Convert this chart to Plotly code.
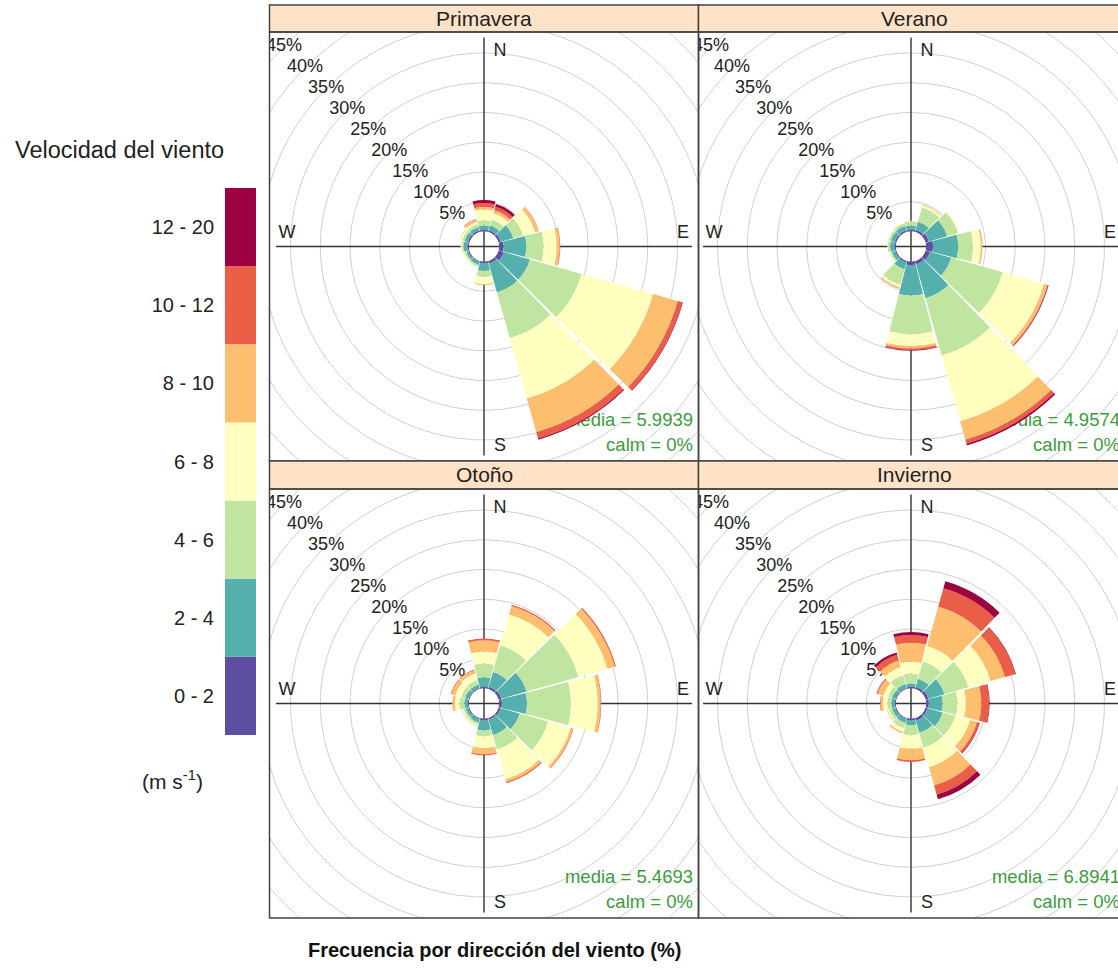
import numpy as np
import plotly.graph_objects as go

W, H = 1118, 974

# ---------------- data ----------------
directions = [0, 30, 60, 90, 120, 150, 180, 210, 240, 270, 300, 330]
speed_bins = ["0 - 2", "2 - 4", "4 - 6", "6 - 8", "8 - 10", "10 - 12", "12 - 20"]
bin_colors = ["#5E4FA2", "#55AFAD", "#BFE5A0", "#FFFFBF", "#FDBF6F", "#EA5D47", "#9E0142"]
seasons = ["Primavera", "Verano", "Otoño", "Invierno"]
medias = ["5.9939", "4.9574", "5.4693", "6.8941"]
calms = ["0%", "0%", "0%", "0%"]

# cumulative frequency (%) per direction, by speed bin (0-2 ... 12-20)
primavera_cum = [
    [0.3, 1.0, 1.9, 3.7, 4.1, 4.8, 5.3],
    [0.3, 1.2, 2.2, 3.3, 3.8, 4.4, 4.9],
    [0.4, 2.6, 4.3, 6.4, 7.0, 7.05, 7.05],
    [0.8, 4.6, 7.5, 9.7, 10.2, 10.3, 10.3],
    [0.9, 5.5, 14.5, 27.0, 31.3, 32.1, 32.2],
    [0.5, 5.5, 13.5, 24.0, 29.9, 31.0, 31.2],
    [0.3, 1.6, 2.6, 3.8, 4.0, 4.0, 4.0],
    [0.2, 0.7, 1.0, 1.2, 1.2, 1.2, 1.2],
    [0.2, 0.6, 0.9, 1.0, 1.0, 1.0, 1.0],
    [0.3, 0.9, 1.2, 1.4, 1.4, 1.4, 1.4],
    [0.3, 0.9, 1.3, 1.6, 1.7, 1.7, 1.7],
    [0.3, 0.9, 1.4, 1.8, 2.2, 2.3, 2.3],
]
verano_cum = [
    [0.3, 1.0, 1.7, 1.8, 1.8, 1.8, 1.8],
    [0.4, 1.8, 4.3, 4.7, 4.8, 4.8, 4.8],
    [0.6, 3.8, 5.7, 5.9, 5.9, 5.9, 5.9],
    [1.2, 5.4, 7.9, 9.2, 9.5, 9.5, 9.5],
    [0.8, 4.5, 13.5, 20.7, 21.3, 21.4, 21.5],
    [0.6, 6.5, 16.5, 28.0, 31.2, 31.9, 32.2],
    [0.6, 5.7, 12.2, 14.2, 14.6, 14.9, 15.0],
    [0.3, 1.5, 4.2, 4.6, 4.75, 4.8, 4.8],
    [0.2, 0.8, 1.1, 1.2, 1.2, 1.2, 1.2],
    [0.3, 1.0, 1.4, 1.5, 1.5, 1.5, 1.5],
    [0.3, 1.0, 1.4, 1.5, 1.5, 1.5, 1.5],
    [0.3, 1.1, 1.6, 1.7, 1.7, 1.7, 1.7],
]
otono_cum = [
    [0.3, 1.9, 4.2, 6.2, 8.1, 8.4, 8.4],
    [0.4, 3.0, 7.6, 13.0, 14.5, 14.7, 14.7],
    [0.5, 4.9, 14.0, 19.0, 20.3, 20.5, 20.5],
    [0.5, 4.7, 12.1, 16.6, 17.1, 17.2, 17.2],
    [0.4, 3.7, 8.7, 12.6, 13.0, 13.1, 13.1],
    [0.3, 3.0, 5.5, 10.7, 11.2, 11.4, 11.4],
    [0.3, 2.0, 3.0, 5.0, 6.0, 6.2, 6.2],
    [0.2, 0.8, 1.2, 1.4, 1.5, 1.5, 1.5],
    [0.2, 0.7, 1.1, 1.3, 1.4, 1.4, 1.4],
    [0.2, 0.8, 1.6, 2.4, 2.8, 2.8, 2.8],
    [0.2, 0.8, 1.5, 2.5, 3.2, 3.3, 3.3],
    [0.2, 0.8, 1.6, 2.7, 3.3, 3.4, 3.4],
]
invierno_cum = [
    [0.3, 0.8, 2.5, 4.5, 7.7, 9.0, 9.5],
    [0.4, 1.8, 4.8, 7.5, 14.4, 17.6, 18.8],
    [0.5, 3.3, 7.5, 11.4, 13.9, 15.7, 15.8],
    [0.5, 2.8, 5.3, 6.7, 9.3, 10.6, 10.7],
    [0.4, 3.0, 5.2, 7.8, 9.0, 9.4, 9.5],
    [0.5, 2.6, 5.2, 8.6, 11.8, 13.4, 14.2],
    [0.3, 1.1, 2.8, 5.1, 7.0, 7.3, 7.3],
    [0.2, 0.9, 1.8, 2.4, 2.7, 2.7, 2.7],
    [0.2, 0.8, 1.3, 1.6, 1.7, 1.7, 1.7],
    [0.2, 0.8, 1.5, 2.2, 2.6, 2.7, 2.7],
    [0.2, 0.8, 1.5, 2.3, 3.3, 3.5, 3.5],
    [0.2, 0.9, 2.4, 3.8, 5.0, 6.0, 6.4],
]
season_data = [primavera_cum, verano_cum, otono_cum, invierno_cum]
ring_values = [5, 10, 15, 20, 25, 30, 35, 40, 45, 50]
ring_labels = [f"{v}%" for v in ring_values]
compass = ["N", "E", "S", "W"]

# ---------------- layout geometry (px) ----------------
R0 = 15.0      # hole radius px
S = 5.95       # px per percent
col_cx = [484.0, 911.0]
col_x0 = [269.5, 698.5]
col_x1 = [698.5, 1129.5]
row_cy = [246.5, 703.5]
row_y0 = [32.0, 489.0]
row_y1 = [461.0, 918.0]
strip_y0 = [5.0, 461.0]
polar_R = [214.0, 207.0]

font_family = "Liberation Sans, Arial, sans-serif"
txt_col = "#222222"
green = "#3c9c3c"

fig = go.Figure()
layout = {}
shapes = []
annotations = []

theta_c = np.linspace(0, 2 * np.pi, 721)

for i, name in enumerate(seasons):
    row, col = divmod(i, 2)
    cx, cy = col_cx[col], row_cy[row]
    x0, x1 = col_x0[col], min(col_x1[col], W)
    y0, y1 = row_y0[row], row_y1[row]
    k = i + 1
    xa, ya = ("xaxis" if k == 1 else f"xaxis{k}"), ("yaxis" if k == 1 else f"yaxis{k}")
    xr, yr = ("x" if k == 1 else f"x{k}"), ("y" if k == 1 else f"y{k}")

    # cartesian overlay (px units) for grid rings, axes cross and labels
    layout[xa] = dict(domain=[x0 / W, x1 / W], range=[x0 - cx, x1 - cx], visible=False,
                      fixedrange=True, anchor=yr)
    layout[ya] = dict(domain=[1 - y1 / H, 1 - y0 / H], range=[cy - y1, cy - y0], visible=False,
                      fixedrange=True, anchor=xr)

    rx, ry = [], []
    for v in ring_values:
        r = R0 + S * v
        rx += list(r * np.sin(theta_c)) + [None]
        ry += list(r * np.cos(theta_c)) + [None]
    fig.add_trace(go.Scatter(x=rx, y=ry, mode="lines", line=dict(color="#d0d0d0", width=1),
                             hoverinfo="skip", xaxis=xr, yaxis=yr, showlegend=False))
    fig.add_trace(go.Scatter(x=[-208, 208, None, 0, 0], y=[0, 0, None, -209, 209], mode="lines",
                             line=dict(color="#333333", width=1.4), hoverinfo="skip",
                             xaxis=xr, yaxis=yr, showlegend=False))
    lab_r = [R0 + S * v for v in ring_values]
    fig.add_trace(go.Scatter(x=[-r / np.sqrt(2) for r in lab_r], y=[r / np.sqrt(2) for r in lab_r],
                             mode="text", text=ring_labels, textposition="middle center",
                             textfont=dict(size=18, color=txt_col, family=font_family),
                             hoverinfo="skip", xaxis=xr, yaxis=yr, showlegend=False))
    fig.add_trace(go.Scatter(x=[16, 199, 16, -197], y=[195, 13, -200, 13], mode="text",
                             text=compass, textposition="middle center",
                             textfont=dict(size=18, color=txt_col, family=font_family),
                             hoverinfo="skip", xaxis=xr, yaxis=yr, showlegend=False))
    fig.add_trace(go.Scatter(x=[209, 209], y=[-175, -200], mode="text",
                             text=[f"media = {medias[i]}", f"calm = {calms[i]}"],
                             textposition="middle left",
                             textfont=dict(size=18.5, color=green, family=font_family),
                             hoverinfo="skip", xaxis=xr, yaxis=yr, showlegend=False))

    # polar wind rose
    pk = "polar" if k == 1 else f"polar{k}"
    R = polar_R[col]
    layout[pk] = dict(
        domain=dict(x=[(cx - R) / W, min((cx + R) / W, 1.0)],
                    y=[1 - (cy + 214) / H, 1 - (cy - 214) / H]),
        hole=R0 / R,
        bgcolor="rgba(0,0,0,0)",
        barmode="stack",
        radialaxis=dict(visible=False, range=[0, (R - R0) / S]),
        angularaxis=dict(visible=False, rotation=90, direction="clockwise"),
    )
    cum = np.array(season_data[i])
    inc = np.diff(cum, axis=1, prepend=0)
    for b in range(len(speed_bins)):
        fig.add_trace(go.Barpolar(r=inc[:, b], theta=directions, width=[28.6] * len(directions),
                                  marker=dict(color=bin_colors[b], line=dict(width=0)),
                                  name=speed_bins[b], subplot=pk, showlegend=False,
                                  hoverinfo="skip"))

    # strip and panel frame
    sx0, sx1 = col_x0[col], col_x1[col]
    sy0 = strip_y0[row]
    shapes.append(dict(type="rect", xref="paper", yref="paper", x0=sx0 / W, x1=sx1 / W,
                       y0=1 - y0 / H, y1=1 - sy0 / H, fillcolor="#FFE3C8",
                       line=dict(color="#444444", width=1.5), layer="above"))
    shapes.append(dict(type="rect", xref="paper", yref="paper", x0=sx0 / W, x1=sx1 / W,
                       y0=1 - y1 / H, y1=1 - y0 / H, fillcolor="rgba(0,0,0,0)",
                       line=dict(color="#444444", width=1.5), layer="above"))
    annotations.append(dict(x=(sx0 + sx1) / 2 / W, y=1 - (sy0 + y0) / 2 / H, xref="paper",
                            yref="paper", text=name, showarrow=False, xanchor="center",
                            yanchor="middle", font=dict(size=21, color=txt_col, family=font_family)))

# ---------------- speed legend ----------------
layout["xaxis5"] = dict(domain=[225 / W, 256 / W], range=[-0.5, 0.5], visible=False,
                        fixedrange=True, anchor="y5")
layout["yaxis5"] = dict(domain=[1 - 735 / H, 1 - 188 / H], range=[0, len(speed_bins)],
                        tickvals=[b + 0.5 for b in range(len(speed_bins))], ticktext=speed_bins,
                        showgrid=False, zeroline=False, showline=False, ticks="",
                        ticklabelstandoff=10, tickfont=dict(size=20, color=txt_col, family=font_family),
                        fixedrange=True, anchor="x5")
fig.add_trace(go.Bar(x=[0] * len(speed_bins), y=[1] * len(speed_bins),
                     base=list(range(len(speed_bins))), width=1,
                     marker=dict(color=bin_colors, line=dict(width=0)),
                     xaxis="x5", yaxis="y5", showlegend=False, hoverinfo="skip"))

annotations.append(dict(x=119 / W, y=1 - 150 / H, xref="paper", yref="paper",
                        text="Velocidad del viento", showarrow=False, xanchor="center",
                        yanchor="middle", font=dict(size=23.5, color=txt_col, family=font_family)))
annotations.append(dict(x=173 / W, y=1 - 780 / H, xref="paper", yref="paper",
                        text="(m s<sup>-1</sup>)", showarrow=False, xanchor="center",
                        yanchor="middle", font=dict(size=21, color=txt_col, family=font_family)))
annotations.append(dict(x=494 / W, y=1 - 950 / H, xref="paper", yref="paper",
                        text="<b>Frecuencia por dirección del viento (%)</b>", showarrow=False,
                        xanchor="center", yanchor="middle",
                        font=dict(size=20, color="#111111", family=font_family)))

fig.update_layout(width=W, height=H, margin=dict(l=0, r=0, t=0, b=0),
                  paper_bgcolor="white", plot_bgcolor="rgba(0,0,0,0)",
                  shapes=shapes, annotations=annotations, showlegend=False,
                  font=dict(family=font_family), **layout)

fig.write_html("out.html", config={"displayModeBar": False, "staticPlot": True},
               post_script="document.body.style.margin='0px';")
